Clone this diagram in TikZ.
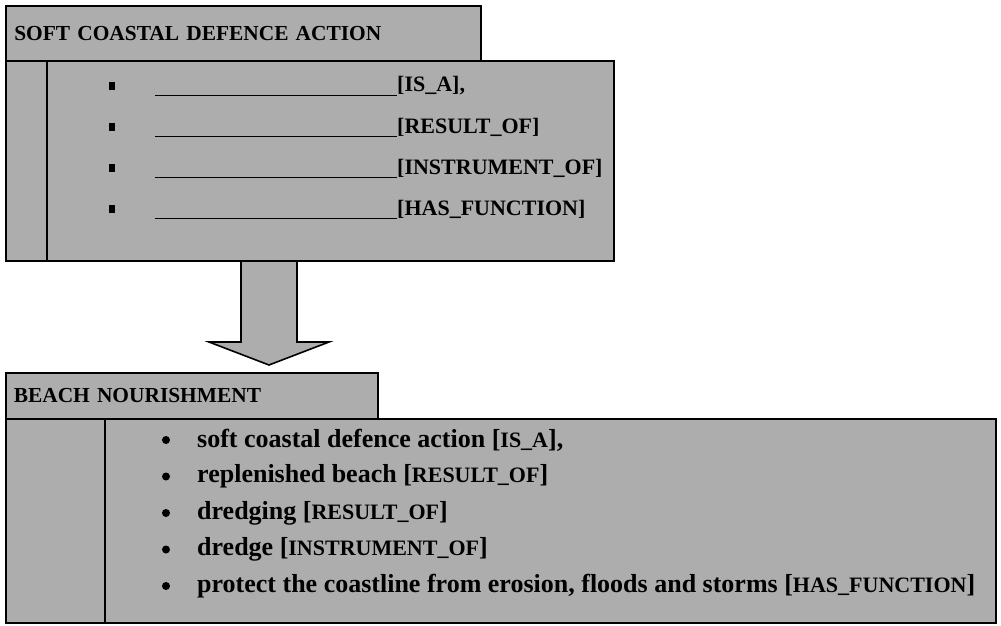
\documentclass[tikz,border=0pt]{standalone}
\usepackage{fontspec}
\setmainfont{Liberation Serif}
\usetikzlibrary{positioning,calc}

\newcommand{\rel}[1]{[{\fontsize{22}{24}\selectfont #1}]}

\begin{document}
\begin{tikzpicture}[
x=1pt,
y=-1pt,
panel/.style={
  draw,
  line width=1.6pt,
  fill=black!32,
  inner sep=0pt,
  anchor=north west
  },
caption/.style={
  panel,
  font=\bfseries\fontsize{21.4}{23}\selectfont,
  align=left
  },
topitem/.style={
  font=\bfseries\fontsize{22}{24}\selectfont,
  anchor=west,
  inner sep=0pt
  },
item/.style={
  font=\bfseries\fontsize{26}{28}\selectfont,
  anchor=west,
  inner sep=0pt
  },
square/.style={
  fill,
  minimum width=6pt,
  minimum height=8pt,
  inner sep=0pt
  },
dot/.style={
  fill,
  circle,
  minimum size=8pt,
  inner sep=0pt
  },
blank/.style={
  line width=1.6pt
  },
divider/.style={
  line width=2.2pt
  }
]
\useasboundingbox (0,0) rectangle (1001,626);
% general concept
\node[caption, minimum width=475pt, minimum height=55pt, text width=458pt] (toptitle) at (5,5) {SOFT COASTAL DEFENCE ACTION};
\node[panel, minimum width=608pt, minimum height=200pt] (topbody) at (5,60) {};
\draw[divider] ($(topbody.north west)+(42,0)$) -- ($(topbody.south west)+(42,0)$);
\foreach \lbl [count=\i] in {{\rel{IS\_A},}, \rel{RESULT\_OF}, \rel{INSTRUMENT\_OF}, \rel{HAS\_FUNCTION}}
{
  \node[square] (box\i) at (112,{86+41*(\i-1)}) {};
  \node[topitem] (slot\i) at (397,{86+41*(\i-1)}) {\lbl};
  \draw[blank] (slot\i.south west) -- ($(slot\i.south west)+(-242,0)$);
}
% specialisation
\coordinate (flowtop) at (269,261);
\coordinate (flowtip) at (269,365);
\draw[line width=1.6pt, fill=black!32] ($(flowtop)+(-28,0)$) -- ($(flowtop)+(28,0)$) -- ($(flowtip)+(28,-23)$) -- ($(flowtip)+(60,-23)$) -- (flowtip) -- ($(flowtip)+(-60,-23)$) -- ($(flowtip)+(-28,-23)$) -- cycle;
% specific term
\node[caption, minimum width=372pt, minimum height=46pt, text width=356pt] (bottitle) at (5,372) {BEACH NOURISHMENT};
\node[panel, minimum width=990pt, minimum height=204pt] (botbody) at (5,418) {};
\draw[divider] ($(botbody.north west)+(100,0)$) -- ($(botbody.south west)+(100,0)$);
\foreach \txt [count=\i] in {{soft coastal defence action \rel{IS\_A},}, {replenished beach \rel{RESULT\_OF}}, {dredging \rel{RESULT\_OF}}, {dredge \rel{INSTRUMENT\_OF}}, {protect the coastline from erosion, floods and storms \rel{HAS\_FUNCTION}}}
{
  \node[dot] (mark\i) at (166,{440+36.5*(\i-1)}) {};
  \node[item] (entry\i) at (197,{440+36.5*(\i-1)}) {\txt};
}
\end{tikzpicture}
\end{document}
